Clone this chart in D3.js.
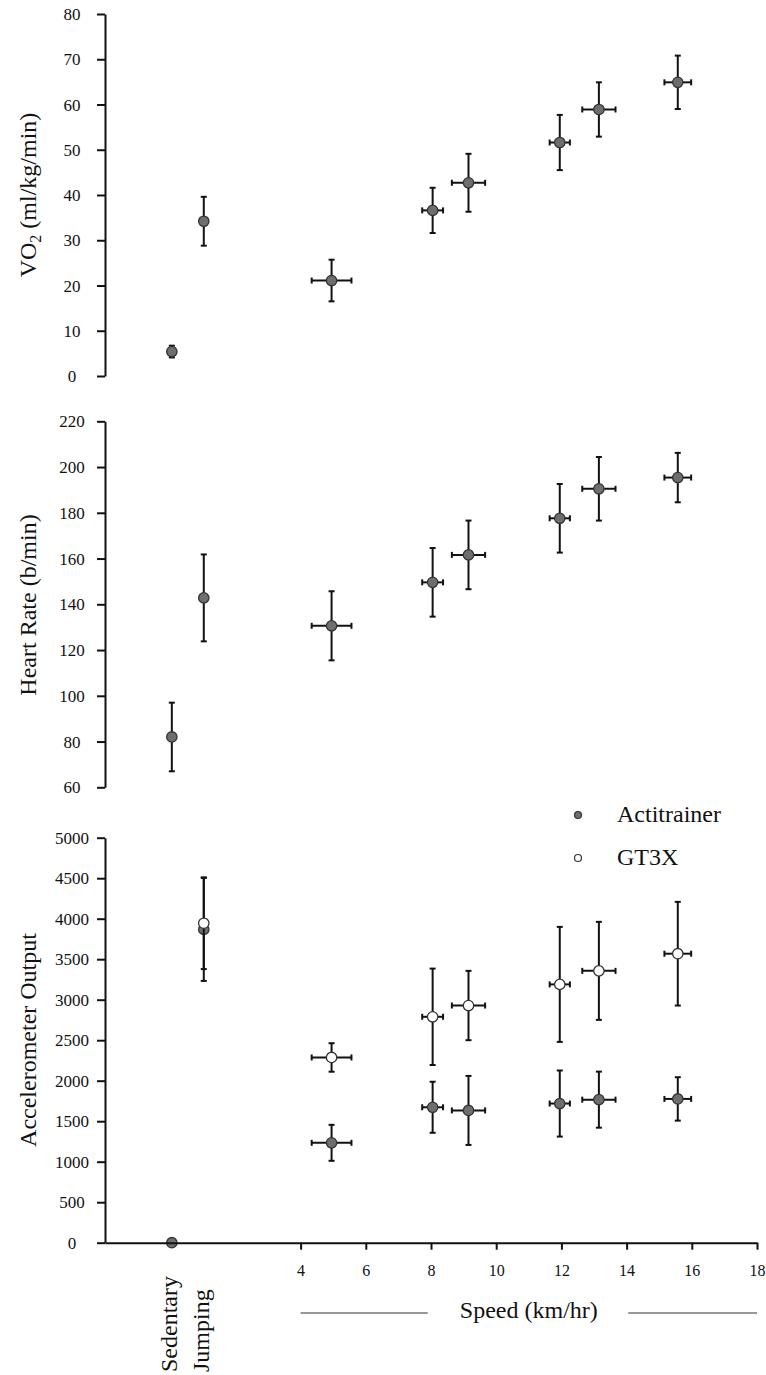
<!DOCTYPE html>
<html>
<head>
<meta charset="utf-8">
<script src="https://cdn.jsdelivr.net/npm/d3@7"></script>
<style>
  html, body { margin: 0; padding: 0; background: #fff; }
  svg { display: block; }
  svg text { font-family: "Times New Roman", "Liberation Serif", Tinos, serif !important; fill: #111; }
</style>
</head>
<body>
<svg id="chart" width="766" height="1375" font-family="Times New Roman, Liberation Serif, serif"></svg>
<script>
// ---------------- DATA ----------------
const categories = ["Sedentary", "Jumping"];
const categoryX = [0.05, 1.03];
const speeds = [4.95, 8.05, 9.15, 11.95, 13.15, 15.57];
const speedSD = [0.61, 0.32, 0.51, 0.31, 0.51, 0.41];

// VO2 (ml/kg/min): sedentary, jumping, then speeds
const vo2Mean = [5.4, 34.2, 21.1, 36.6, 42.7, 51.6, 58.9, 64.9];
const vo2SD   = [1.3, 5.4, 4.6, 5.0, 6.4, 6.1, 6.0, 5.9];

// Heart rate (b/min)
const hrMean = [82, 142.8, 130.6, 149.6, 161.6, 177.6, 190.5, 195.4];
const hrSD   = [15, 19.0, 15.1, 15.0, 15.0, 15.0, 13.9, 10.8];

// Accelerometer output
const actiMean = [0, 3868, 1233, 1672, 1633, 1718, 1766, 1775];
const actiSD   = [0, 636, 222, 315, 426, 408, 346, 268];
const gt3xMean = [null, 3944, 2287, 2789, 2928, 3189, 3356, 3568];
const gt3xSD   = [null, 566, 176, 595, 428, 710, 605, 640];

const vo2Ticks = [0, 10, 20, 30, 40, 50, 60, 70, 80];
const hrTicks = [60, 80, 100, 120, 140, 160, 180, 200, 220];
const accTicks = [0, 500, 1000, 1500, 2000, 2500, 3000, 3500, 4000, 4500, 5000];
const speedTicks = [4, 6, 8, 10, 12, 14, 16, 18];
const legendLabels = ["Actitrainer", "GT3X"];

// ---------------- LAYOUT ----------------
const FONT = "'Times New Roman', 'Liberation Serif', serif";
const svg = d3.select("#chart");
const axisX0 = 105, axisX1 = 757;
const x = d3.scaleLinear().domain([-2, 18]).range([axisX0, axisX1]);

const xs = categoryX.concat(speeds);
const xsd = [0, 0].concat(speedSD);

const panels = [
  { title: "VO2", domain: [0, 80], range: [376, 14], ticks: vo2Ticks, titleY: 195,
    series: [{ mean: vo2Mean, sd: vo2SD, fill: "#6e6e6e" }] },
  { title: "Heart Rate (b/min)", domain: [60, 220], range: [787.3, 421.3], ticks: hrTicks, titleY: 605,
    series: [{ mean: hrMean, sd: hrSD, fill: "#6e6e6e" }] },
  { title: "Accelerometer Output", domain: [0, 5000], range: [1242.7, 837.7], ticks: accTicks, titleY: 1040,
    series: [{ mean: actiMean, sd: actiSD, fill: "#6e6e6e" }, { mean: gt3xMean, sd: gt3xSD, fill: "#ffffff" }] }
];

panels.forEach((p, pi) => {
  const y = d3.scaleLinear().domain(p.domain).range(p.range);
  const g = svg.append("g");

  // y axis
  const ax = g.append("g").attr("transform", `translate(${axisX0},0)`)
    .call(d3.axisLeft(y).tickValues(p.ticks).tickSize(8).tickSizeOuter(0).tickFormat(d3.format("d")));
  ax.attr("font-family", FONT);
  ax.select(".domain").attr("stroke", "#111").attr("stroke-width", 2);
  ax.selectAll(".tick line").attr("stroke", "#111").attr("stroke-width", 2);
  ax.selectAll(".tick text")
    .attr("x", -33).attr("dy", "0.33em")
    .attr("text-anchor", "middle")
    .attr("font-family", FONT)
    .style("font-size", "17px").attr("fill", "#111");

  // y title
  const tt = g.append("text")
    .attr("transform", `translate(36,${p.titleY}) rotate(-90)`)
    .attr("text-anchor", "middle")
    .attr("font-family", FONT)
    .style("font-size", "24px");
  if (p.title === "VO2") {
    tt.append("tspan").text("VO");
    tt.append("tspan").text("2").style("font-size", "16px").attr("dy", "5");
    tt.append("tspan").text(" (ml/kg/min)").attr("dy", "-5");
  } else {
    tt.text(p.title);
  }

  // series
  p.series.forEach(s => {
    const pts = xs.map((xv, i) => ({ x: xv, xsd: xsd[i], m: s.mean[i], sd: s.sd[i] }))
      .filter(d => d.m !== null);
    const eg = g.append("g").attr("stroke", "#111").attr("stroke-width", 2).attr("fill", "none");
    pts.forEach(d => {
      const cx = x(d.x), cy = y(d.m);
      if (d.sd > 0) {
        const yt = y(d.m + d.sd), yb = y(d.m - d.sd);
        eg.append("line").attr("x1", cx).attr("x2", cx).attr("y1", yt).attr("y2", yb);
        eg.append("line").attr("x1", cx - 3).attr("x2", cx + 3).attr("y1", yt).attr("y2", yt);
        eg.append("line").attr("x1", cx - 3).attr("x2", cx + 3).attr("y1", yb).attr("y2", yb);
      }
      if (d.xsd > 0) {
        const xl = x(d.x - d.xsd), xr = x(d.x + d.xsd);
        eg.append("line").attr("x1", xl).attr("x2", xr).attr("y1", cy).attr("y2", cy);
        eg.append("line").attr("x1", xl).attr("x2", xl).attr("y1", cy - 3).attr("y2", cy + 3);
        eg.append("line").attr("x1", xr).attr("x2", xr).attr("y1", cy - 3).attr("y2", cy + 3);
      }
    });
    g.append("g").selectAll("circle").data(pts).join("circle")
      .attr("cx", d => x(d.x)).attr("cy", d => y(d.m)).attr("r", 5.2)
      .attr("fill", s.fill).attr("stroke", "#333").attr("stroke-width", 1.3);
  });

  // x axis only on bottom panel
  if (pi === 2) {
    const xa = g.append("g").attr("transform", `translate(0,${p.range[0]})`)
      .call(d3.axisBottom(x).tickValues(speedTicks).tickSize(7).tickSizeOuter(0).tickFormat(d3.format("d")));
    xa.attr("font-family", FONT);
    xa.select(".domain").attr("stroke", "#111").attr("stroke-width", 2);
    xa.selectAll(".tick line").attr("stroke", "#111").attr("stroke-width", 2);
    xa.selectAll(".tick text").attr("y", 22).attr("dy", "0.71em")
      .attr("font-family", FONT)
      .style("font-size", "16px").attr("fill", "#111");
  }
});

// bottom axis labels
svg.append("text").attr("x", (x(4) + x(18)) / 2).attr("y", 1318)
  .attr("text-anchor", "middle").attr("font-family", FONT).style("font-size", "24px").text("Speed (km/hr)");
svg.append("line").attr("x1", x(4)).attr("x2", x(7.9)).attr("y1", 1313).attr("y2", 1313)
  .attr("stroke", "#333").attr("stroke-width", 1.2);
svg.append("line").attr("x1", x(14.05)).attr("x2", x(18)).attr("y1", 1313).attr("y2", 1313)
  .attr("stroke", "#333").attr("stroke-width", 1.2);

categories.forEach((c, i) => {
  svg.append("text")
    .attr("transform", `translate(${x(categoryX[i]) + 5},1372) rotate(-90)`)
    .attr("text-anchor", "start").attr("font-family", FONT).style("font-size", "24px").text(c);
});

// legend
const legFills = ["#6e6e6e", "#ffffff"];
const legY = [815, 858];
legendLabels.forEach((l, i) => {
  svg.append("circle").attr("cx", 578).attr("cy", legY[i]).attr("r", 3.5)
    .attr("fill", legFills[i]).attr("stroke", "#333").attr("stroke-width", 1.2);
  svg.append("text").attr("x", 617).attr("y", legY[i] + 7)
    .attr("font-family", FONT).style("font-size", "24px").text(l);
});
</script>
</body>
</html>
